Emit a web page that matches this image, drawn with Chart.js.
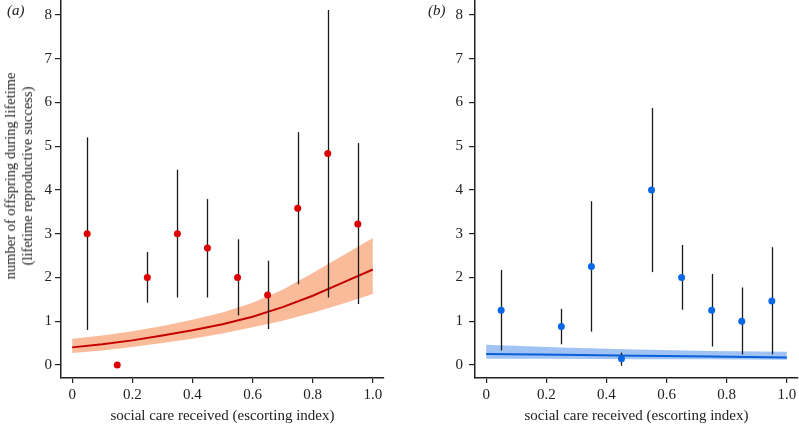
<!DOCTYPE html>
<html>
<head>
<meta charset="utf-8">
<script src="https://cdn.jsdelivr.net/npm/chart.js@4.4.1/dist/chart.umd.min.js"></script>
<style>
  html, body { margin: 0; padding: 0; background: #fff; }
  body { width: 799px; height: 425px; position: relative; overflow: hidden; font-family: 'Liberation Serif', 'DejaVu Serif', serif; color: #222; }
  canvas { position: absolute; top: 0; }
  #chartA { left: 0; }
  #chartB { left: 400px; }
  .tag { position: absolute; top: 2px; font-style: italic; font-size: 15px; }
  .ytitle {
    position: absolute; left: 19px; top: 176px;
    transform: translate(-50%, -50%) rotate(-90deg);
    white-space: nowrap; text-align: center; font-size: 14.5px; line-height: 17px;
  }
</style>
</head>
<body>
<canvas id="chartA" width="400" height="425"></canvas>
<canvas id="chartB" width="399" height="425"></canvas>
<div class="tag" style="left:7px">(a)</div>
<div class="tag" style="left:428px">(b)</div>
<div class="ytitle">number of offspring during lifetime<br>(lifetime reproductive success)</div>
<script>
// bins of the escorting index (shared by both panels)
var binX = [0.05, 0.15, 0.25, 0.35, 0.45, 0.55, 0.65, 0.75, 0.85, 0.95];

// panel (a): observed means with intervals
var meanA = [3, 0, 2, 3, 2.67, 2, 1.6, 3.58, 4.83, 3.22];
var lowA = [0.8, null, 1.42, 1.54, 1.54, 1.13, 0.82, 1.84, 1.54, 1.39];
var highA = [5.2, null, 2.58, 4.46, 3.79, 2.87, 2.38, 5.32, 8.11, 5.07];

// panel (a): fitted curve and its band
var fitXA = [0, 0.1, 0.2, 0.3, 0.4, 0.5, 0.6, 0.7, 0.8, 0.9, 1.0];
var fitA = [0.40, 0.47, 0.56, 0.67, 0.79, 0.93, 1.10, 1.32, 1.58, 1.88, 2.18];
var bandHighA = [0.60, 0.67, 0.77, 0.89, 1.03, 1.20, 1.42, 1.72, 2.10, 2.50, 2.90];
var bandLowA = [0.27, 0.33, 0.41, 0.50, 0.60, 0.72, 0.86, 1.01, 1.19, 1.40, 1.62];

// panel (b): observed means with intervals
var meanB = [1.25, null, 0.88, 2.25, 0.14, 4.0, 2.0, 1.25, 1.0, 1.46];
var lowB = [0.33, null, 0.47, 0.76, -0.02, 2.12, 1.26, 0.42, 0.24, 0.24];
var highB = [2.17, null, 1.28, 3.74, 0.28, 5.87, 2.74, 2.08, 1.77, 2.69];

// panel (b): fitted line and its band
var fitXB = [0, 0.25, 0.5, 0.75, 1.0];
var fitB = [0.25, 0.23, 0.21, 0.19, 0.17];
var bandHighB = [0.46, 0.40, 0.35, 0.32, 0.30];
var bandLowB = [0.14, 0.14, 0.13, 0.13, 0.12];

var xTicks = [0, 0.2, 0.4, 0.6, 0.8, 1.0];
var xTickLabels = ['0', '0.2', '0.4', '0.6', '0.8', '1.0'];
var yTicks = [0, 1, 2, 3, 4, 5, 6, 7, 8];
var xTitle = 'social care received (escorting index)';

var FONT = "'Liberation Serif', 'DejaVu Serif', serif";
var INK = '#222';

function pairs(xs, ys) {
  var out = [];
  xs.forEach(function (x, i) {
    if (ys[i] !== null) out.push({ x: x, y: ys[i] });
  });
  return out;
}

// vertical interval lines, drawn just under the points
var errorBars = {
  id: 'errorBars',
  beforeDatasetDraw: function (chart, args) {
    var ds = chart.data.datasets[args.index];
    if (!ds.errLow) return;
    var sx = chart.scales.x, sy = chart.scales.y, ctx = chart.ctx;
    ctx.save();
    ctx.strokeStyle = '#1a1a1a';
    ctx.lineWidth = 1.3;
    ds.errX.forEach(function (x, i) {
      if (ds.errLow[i] === null) return;
      var px = Math.round(sx.getPixelForValue(x)) + 0.5;
      ctx.beginPath();
      ctx.moveTo(px, sy.getPixelForValue(ds.errLow[i]));
      ctx.lineTo(px, sy.getPixelForValue(ds.errHigh[i]));
      ctx.stroke();
    });
    ctx.restore();
  }
};

function makePanel(id, p) {
  return new Chart(document.getElementById(id), {
    type: 'scatter',
    plugins: [errorBars],
    data: {
      datasets: [
        {
          data: pairs(binX, p.mean),
          errX: binX, errLow: p.low, errHigh: p.high,
          pointRadius: 3.5, pointBackgroundColor: p.dot, pointBorderWidth: 0,
          showLine: false, order: 0
        },
        {
          data: pairs(p.fitX, p.fit), showLine: true, pointRadius: 0,
          borderColor: p.line, borderWidth: 2, order: 1
        },
        {
          data: pairs(p.fitX, p.bandHigh), showLine: true, pointRadius: 0,
          borderWidth: 0, borderColor: 'rgba(0,0,0,0)', fill: '+1', backgroundColor: p.band, order: 2
        },
        {
          data: pairs(p.fitX, p.bandLow), showLine: true, pointRadius: 0,
          borderWidth: 0, borderColor: 'rgba(0,0,0,0)', order: 3
        }
      ]
    },
    options: {
      responsive: false,
      animation: false,
      layout: { autoPadding: false, padding: { left: 0, right: p.padRight, top: 0, bottom: 0 } },
      plugins: { legend: { display: false }, tooltip: { enabled: false } },
      scales: {
        x: {
          type: 'linear', min: -0.037, max: 1.037,
          afterBuildTicks: function (s) { s.ticks = xTicks.map(function (v) { return { value: v }; }); },
          afterFit: function (s) { s.height = 47; s.paddingLeft = 0; s.paddingRight = 0; },
          ticks: {
            callback: function (v, i) { return xTickLabels[i]; },
            font: { family: FONT, size: 15 }, color: INK, padding: 3, maxRotation: 0, autoSkip: false
          },
          grid: { drawOnChartArea: false, drawTicks: true, tickLength: 5, color: INK, lineWidth: 1.2 },
          border: { color: INK, width: 1.5 },
          title: { display: true, text: xTitle, font: { family: FONT, size: 15 }, color: INK, padding: { top: 0, bottom: 0 } }
        },
        y: {
          type: 'linear', min: -0.3, max: 8.34,
          afterBuildTicks: function (s) { s.ticks = yTicks.map(function (v) { return { value: v }; }); },
          afterFit: function (s) { s.width = p.yWidth; s.paddingTop = 0; s.paddingBottom = 0; },
          ticks: {
            callback: function (v) { return String(v); },
            font: { family: FONT, size: 15 }, color: INK, padding: p.yPad, autoSkip: false
          },
          grid: { drawOnChartArea: false, drawTicks: true, tickLength: 6, color: INK, lineWidth: 1.2 },
          border: { color: INK, width: 1.5 }
        }
      }
    }
  });
}

makePanel('chartA', {
  mean: meanA, low: lowA, high: highA,
  fitX: fitXA, fit: fitA, bandHigh: bandHighA, bandLow: bandLowA,
  dot: '#dd0000', line: '#c40000', band: 'rgba(248,170,128,0.8)',
  yWidth: 61, yPad: 3, padRight: 16
});

makePanel('chartB', {
  mean: meanB, low: lowB, high: highB,
  fitX: fitXB, fit: fitB, bandHigh: bandHighB, bandLow: bandLowB,
  dot: '#0a68e6', line: '#0b5fd9', band: 'rgba(120,170,240,0.7)',
  yWidth: 75, yPad: 6, padRight: 1
});
</script>
</body>
</html>
